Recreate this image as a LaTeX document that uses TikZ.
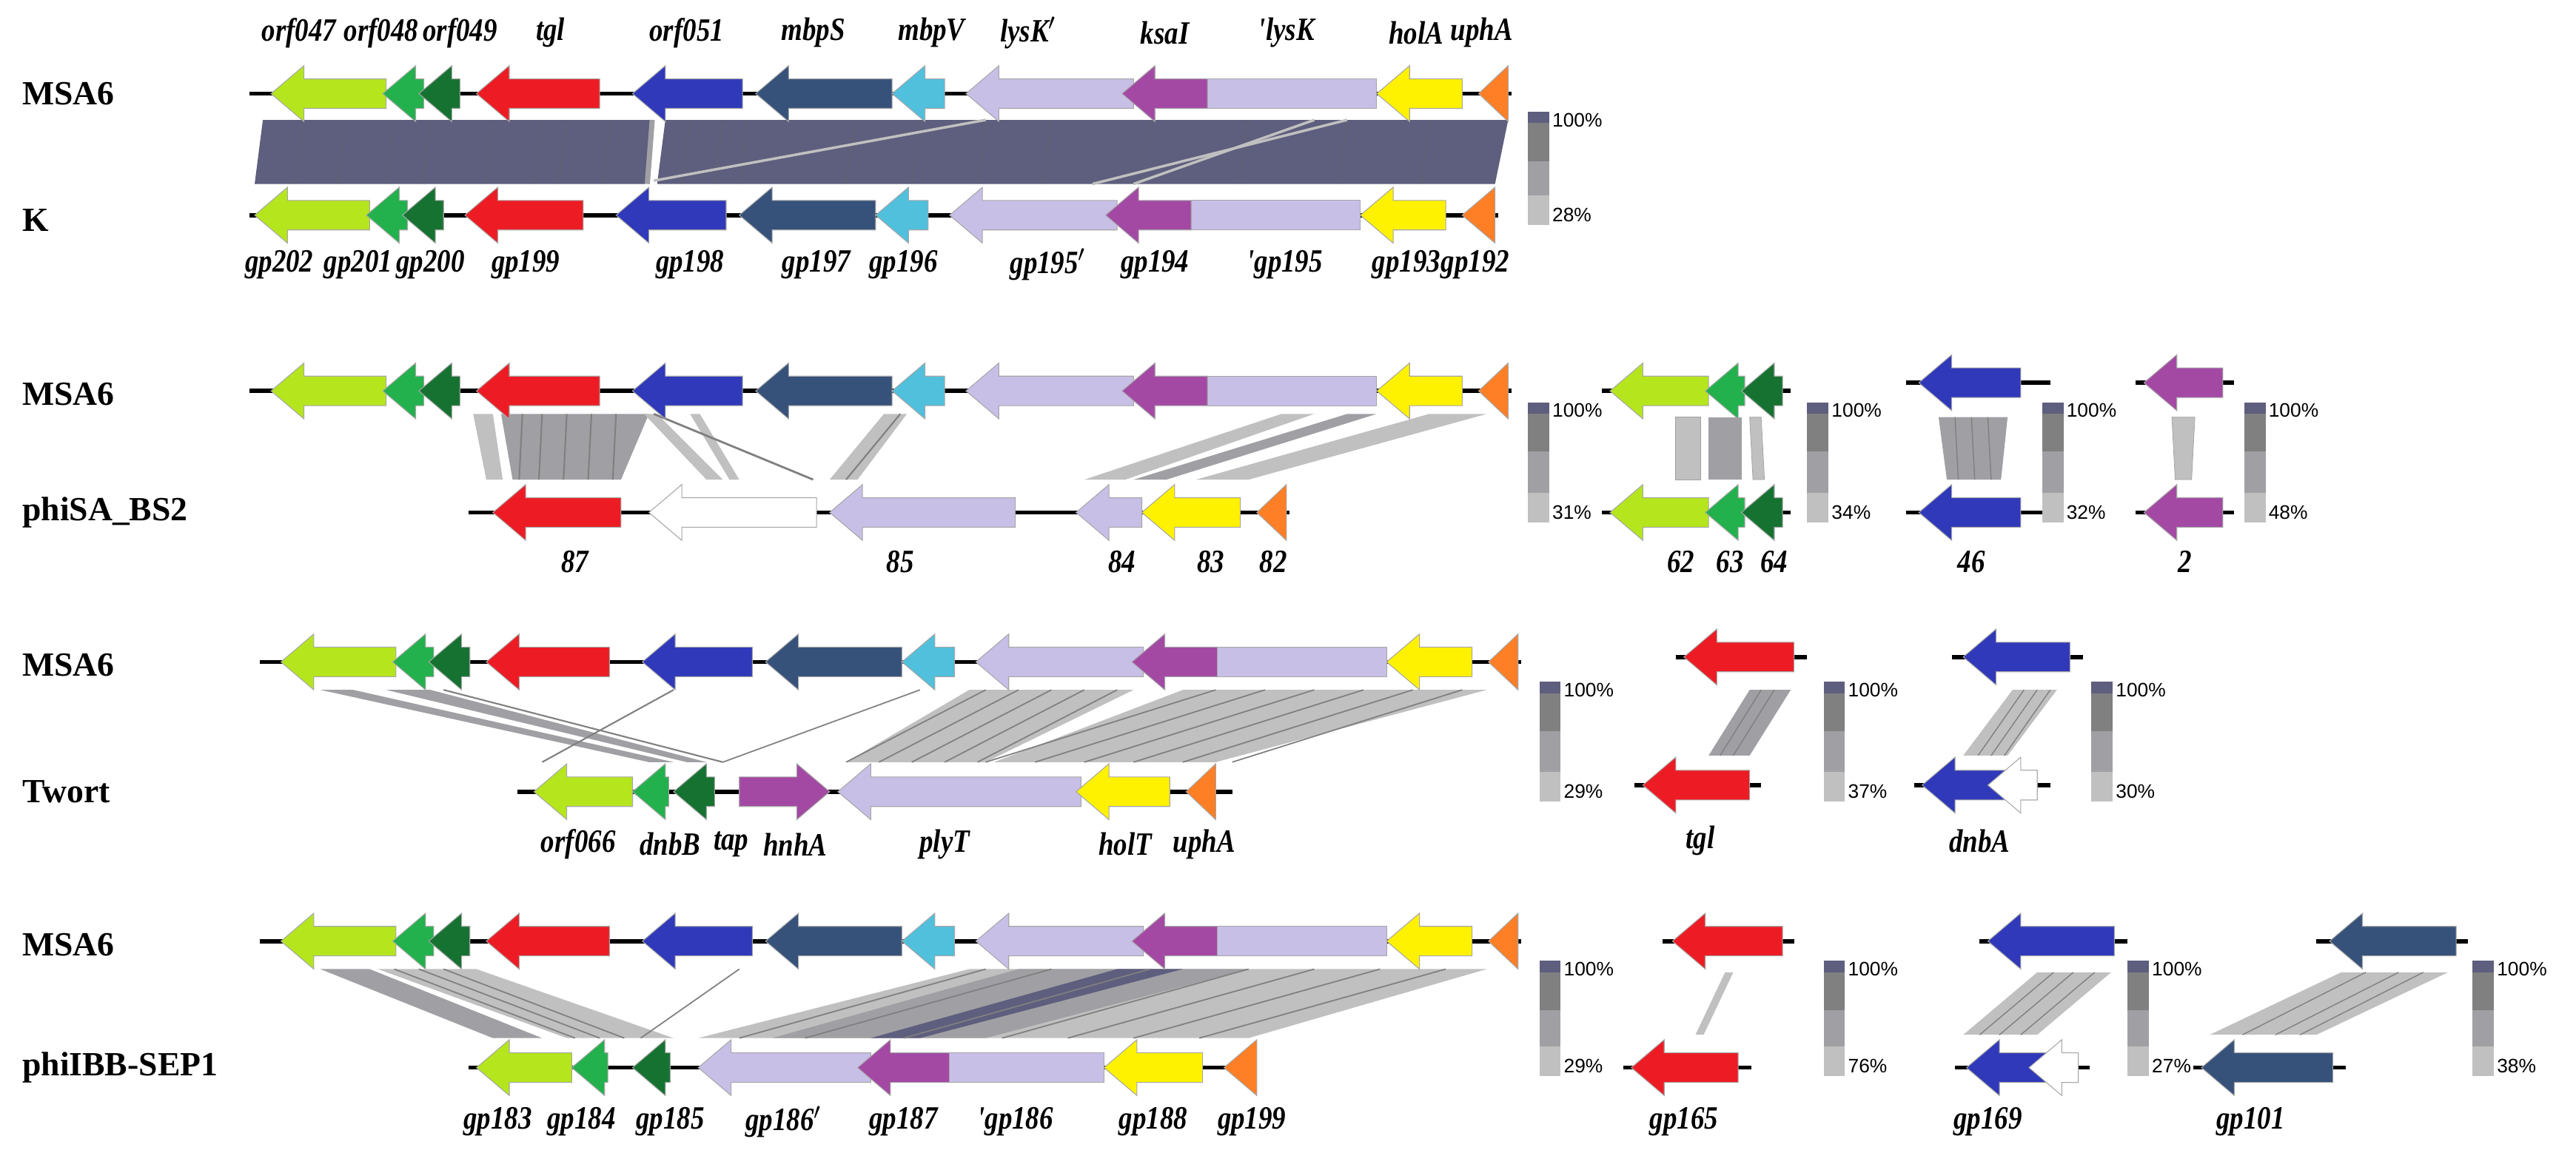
\documentclass[tikz,border=0pt]{standalone}
\usepackage{fontspec}
\setmainfont{Liberation Serif}
\newfontfamily\sans{Liberation Sans}
\newfontfamily\lab{Liberation Serif}[FakeStretch=0.84]
\begin{document}
\definecolor{cLime}{HTML}{B5E61D}\definecolor{cGreen}{HTML}{22B14C}
\definecolor{cDk}{HTML}{167231}\definecolor{cRed}{HTML}{ED1C24}
\definecolor{cBlue}{HTML}{3039B9}\definecolor{cNavy}{HTML}{36527A}
\definecolor{cCyan}{HTML}{50C0DC}\definecolor{cLav}{HTML}{C8BFE7}
\definecolor{cPur}{HTML}{A349A4}\definecolor{cYel}{HTML}{FFF200}
\definecolor{cOra}{HTML}{FF7F27}\definecolor{cHit}{HTML}{5E5E7E}
\definecolor{cG1}{HTML}{808080}\definecolor{cG2}{HTML}{A0A0A4}\definecolor{cG3}{HTML}{C0C0C0}
\begin{tikzpicture}[x=0.02219cm,y=-0.02219cm,
  gene/.style={draw=gray!70,line width=0.3pt},
  bb/.style={line width=1.6pt},
  glab/.style={font=\lab\fontsize{12.5}{14}\selectfont\bfseries\itshape},
  rlab/.style={font=\fontsize{13}{15}\selectfont\bfseries,anchor=west},
  pct/.style={font=\sans\fontsize{7.5}{9}\selectfont,anchor=west,inner sep=1pt},
  hit/.style={fill=cG3,draw=cG2,line width=0.2pt}]
\useasboundingbox (0,0) rectangle (1568,713.8);
\newcommand\gL[4]{\filldraw[gene,fill=#4] (#1,#3) -- (#1+20,#3-17) -- (#1+20,#3-9) -- (#2,#3-9) -- (#2,#3+9) -- (#1+20,#3+9) -- (#1+20,#3+17) -- cycle;}
\newcommand\gR[4]{\filldraw[gene,fill=#4] (#2,#3) -- (#2-20,#3-17) -- (#2-20,#3-9) -- (#1,#3-9) -- (#1,#3+9) -- (#2-20,#3+9) -- (#2-20,#3+17) -- cycle;}
\newcommand\gB[4]{\filldraw[gene,fill=#4] (#1,#3-9) rectangle (#2,#3+9);}
\newcommand\gT[4]{\filldraw[gene,fill=#4] (#1,#3) -- (#2,#3-17) -- (#2,#3+17) -- cycle;}
\newcommand\msa[2]{\begin{scope}[xshift=#1*0.02219cm]
 \draw[bb] (152,#2) -- (920,#2);
 \gL{165}{235}{#2}{cLime}\gL{233}{258}{#2}{cGreen}\gL{255}{280}{#2}{cDk}
 \gL{290}{365}{#2}{cRed}\gL{385}{452}{#2}{cBlue}\gL{460}{543}{#2}{cNavy}
 \gL{543}{575}{#2}{cCyan}\gL{588}{690}{#2}{cLav}\gL{683}{735}{#2}{cPur}
 \gB{735}{838}{#2}{cLav}\gL{838}{890}{#2}{cYel}\gT{900}{918}{#2}{cOra}
 \end{scope}}
\newcommand\sbar[4]{% x ytop ybot pct
 \fill[cHit] (#1,#2) rectangle (#1+13,#2+7);
 \fill[cG1] (#1,#2+7) rectangle (#1+13,#2+30);
 \fill[cG2] (#1,#2+30) rectangle (#1+13,#3-18);
 \fill[cG3] (#1,#3-18) rectangle (#1+13,#3);
 \node[pct] at (#1+13,#2+5) {100\%};
 \node[pct] at (#1+13,#3-6) {#4};}
% ---------- row 1
\node[rlab] at (8,57) {MSA6};
\node[rlab] at (8,134) {K};
\fill[cHit] (160,73) -- (398,73) -- (393,112) -- (155,112) -- cycle;
\fill[cHit] (405,73) -- (918,73) -- (910,112) -- (400,112) -- cycle;
\foreach \x in {185,210,240,262,300,330,345,372,420,440,455,520,560,600,640,700,760,820,870}
  \draw[black!60,line width=0.2pt] (\x,73) -- (\x-5,112);
\draw[cG2,line width=2pt] (397,73) -- (394,112);
\draw[white,line width=2pt] (403,73) -- (398,112);
\draw[cG3,line width=1pt] (398,110) -- (600,73);
\draw[cG3,line width=1pt] (665,112) -- (820,73);
\draw[cG3,line width=1pt] (690,112) -- (800,73);
\msa{0}{57}
\draw[bb] (152,131) -- (912,131);
\gL{155}{225}{131}{cLime}\gL{223}{248}{131}{cGreen}\gL{245}{270}{131}{cDk}
\gL{283}{355}{131}{cRed}\gL{375}{442}{131}{cBlue}\gL{450}{533}{131}{cNavy}
\gL{533}{565}{131}{cCyan}\gL{578}{680}{131}{cLav}\gL{673}{725}{131}{cPur}
\gB{725}{828}{131}{cLav}\gL{828}{880}{131}{cYel}\gT{890}{910}{131}{cOra}
\foreach \t/\x in {orf047/182,orf048/232,orf049/280,tgl/335,orf051/418,mbpS/495,mbpV/567,lysK$'$/626,ksaI/709,'lysK/783,holA/862,uphA/902}
  \node[glab] at (\x,20) {\t};
\foreach \t/\x in {gp202/170,gp201/218,gp200/262,gp199/320,gp198/420,gp197/497,gp196/550,gp195$'$/638,gp194/703,'gp195/782,gp193/856,gp192/898}
  \node[glab] at (\x,161) {\t};
\sbar{930}{68}{137}{28\%}
% ---------- row 2
\node[rlab] at (8,240) {MSA6};
\node[rlab] at (8,312) {phiSA\_BS2};
\fill[cG3] (288,252) -- (300,252) -- (306,292) -- (296,292) -- cycle;
\fill[cG2] (305,252) -- (395,252) -- (378,292) -- (312,292) -- cycle;
\foreach \x in {318,330,345,360,375} \draw[cG1,line width=0.6pt] (\x,252) -- (\x-2,292);
\fill[cG3] (392,252) -- (400,252) -- (440,292) -- (430,292) -- cycle;
\fill[cG3] (420,252) -- (426,252) -- (450,292) -- (444,292) -- cycle;
\draw[cG1,line width=0.8pt] (398,252) -- (495,292);
\fill[cG3] (538,252) -- (552,252) -- (522,292) -- (505,292) -- cycle;
\draw[cG1,line width=0.6pt] (548,252) -- (515,292);
\fill[cG3] (780,252) -- (800,252) -- (685,292) -- (660,292) -- cycle;
\fill[cG2] (820,252) -- (838,252) -- (710,292) -- (690,292) -- cycle;
\fill[cG3] (870,252) -- (905,252) -- (760,292) -- (728,292) -- cycle;
\msa{0}{238}
\draw[bb] (285,312) -- (785,312);
\gL{300}{378}{312}{cRed}\gL{395}{497}{312}{white}\gL{505}{618}{312}{cLav}
\gL{655}{695}{312}{cLav}\gL{695}{755}{312}{cYel}\gT{765}{783}{312}{cOra}
\foreach \t/\x in {87/350,85/548,84/683,83/737,82/775} \node[glab] at (\x,342) {\t};
\sbar{930}{245}{318}{31\%}
% small panels row 2
\draw[bb] (975,238) -- (1090,238);
\gL{980}{1040}{238}{cLime}\gL{1038}{1062}{238}{cGreen}\gL{1060}{1085}{238}{cDk}
\draw[bb] (975,312) -- (1090,312);
\gL{980}{1040}{312}{cLime}\gL{1038}{1062}{312}{cGreen}\gL{1060}{1085}{312}{cDk}
\fill[hit] (1020,254) rectangle (1035,292);
\fill[cG2] (1040,254) rectangle (1060,292);
\fill[hit] (1065,254) -- (1072,254) -- (1074,292) -- (1067,292) -- cycle;
\sbar{1100}{245}{318}{34\%}
\draw[bb] (1160,233) -- (1248,233);\gL{1168}{1230}{233}{cBlue}
\draw[bb] (1160,312) -- (1248,312);\gL{1168}{1230}{312}{cBlue}
\fill[cG2] (1180,254) -- (1222,254) -- (1218,292) -- (1185,292) -- cycle;
\foreach \x in {1190,1200,1210} \draw[cG1] (\x,254) -- (\x+2,292);
\sbar{1243}{245}{318}{32\%}
\draw[bb] (1300,233) -- (1360,233);\gL{1305}{1353}{233}{cPur}
\draw[bb] (1300,312) -- (1360,312);\gL{1305}{1353}{312}{cPur}
\fill[hit] (1322,254) -- (1336,254) -- (1334,292) -- (1324,292) -- cycle;
\sbar{1366}{245}{318}{48\%}
\foreach \t/\x in {62/1023,63/1053,64/1080,46/1200,2/1330} \node[glab] at (\x,342) {\t};
% ---------- row 3
\node[rlab] at (8,405) {MSA6};
\node[rlab] at (8,482) {Twort};
\fill[cG2] (195,420) -- (215,420) -- (410,464) -- (395,464) -- cycle;
\fill[cG2] (235,420) -- (262,420) -- (430,464) -- (418,464) -- cycle;
\draw[cG1,line width=0.6pt] (410,420) -- (330,464);
\draw[cG1,line width=0.6pt] (270,420) -- (440,464);
\draw[cG1,line width=0.5pt] (440,464) -- (560,420);
\fill[cG3] (590,420) -- (690,420) -- (600,464) -- (515,464) -- cycle;
\foreach \x in {600,620,640,660,680} \draw[cG1,line width=0.5pt] (\x,420) -- (\x-85,464);
\fill[cG3] (720,420) -- (905,420) -- (740,464) -- (605,464) -- cycle;
\foreach \x in {740,770,800,830,860,890} \draw[cG1,line width=0.5pt] (\x,420) -- (\x-140,464);
\msa{6}{403}
\draw[bb] (315,482) -- (750,482);
\gL{325}{385}{482}{cLime}\gL{385}{407}{482}{cGreen}\gL{410}{435}{482}{cDk}
\gR{450}{505}{482}{cPur}\gL{510}{658}{482}{cLav}\gL{655}{712}{482}{cYel}\gT{722}{740}{482}{cOra}
\foreach \t/\x in {orf066/352,dnbB/408,tap/445,hnhA/484,plyT/575,holT/685,uphA/733} \node[glab] at (\x,514) {\t};
\sbar{937}{415}{488}{29\%}
\draw[bb] (1020,400) -- (1100,400);\gL{1025}{1092}{400}{cRed}
\draw[bb] (995,478) -- (1072,478);\gL{1000}{1065}{478}{cRed}
\fill[cG2] (1065,420) -- (1090,420) -- (1065,460) -- (1040,460) -- cycle;
\foreach \x in {1072,1080} \draw[cG1] (\x,420) -- (\x-25,460);
\sbar{1110}{415}{488}{37\%}
\node[glab] at (1035,512) {tgl};
\draw[bb] (1188,400) -- (1268,400);\gL{1195}{1260}{400}{cBlue}
\draw[bb] (1165,478) -- (1248,478);\gL{1170}{1240}{478}{cBlue}\gL{1210}{1240}{478}{white}
\fill[cG3] (1225,420) -- (1252,420) -- (1222,460) -- (1195,460) -- cycle;
\foreach \x in {1232,1240,1248} \draw[cG1] (\x,420) -- (\x-28,460);
\sbar{1273}{415}{488}{30\%}
\node[glab] at (1205,512) {dnbA};
% ---------- row 4
\node[rlab] at (8,575) {MSA6};
\node[rlab] at (8,650) {phiIBB-SEP1};
\fill[cG2] (195,590) -- (225,590) -- (330,632) -- (300,632) -- cycle;
\fill[cG3] (230,590) -- (290,590) -- (410,632) -- (345,632) -- cycle;
\foreach \x in {240,255,270} \draw[cG1,line width=0.5pt] (\x,590) -- (\x+110,632);
\draw[cG1,line width=0.5pt] (450,590) -- (390,632);
\fill[cG3] (590,590) -- (905,590) -- (760,632) -- (425,632) -- cycle;
\fill[cG2] (620,590) -- (760,590) -- (600,632) -- (470,632) -- cycle;
\fill[cHit] (680,590) -- (720,590) -- (560,632) -- (530,632) -- cycle;
\foreach \x in {600,640,700,760,800,840,880} \draw[cG1,line width=0.5pt] (\x,590) -- (\x-150,632);
\msa{6}{573}
\draw[bb] (285,650) -- (765,650);
\gL{290}{348}{650}{cLime}\gL{348}{370}{650}{cGreen}\gL{385}{408}{650}{cDk}
\gL{425}{530}{650}{cLav}\gL{522}{578}{650}{cPur}\gB{578}{672}{650}{cLav}
\gL{672}{732}{650}{cYel}\gT{745}{765}{650}{cOra}
\foreach \t/\x in {gp183/303,gp184/354,gp185/408,gp186$'$/477,gp187/550,'gp186/618,gp188/702,gp199/762} \node[glab] at (\x,683) {\t};
\sbar{937}{585}{655}{29\%}
\draw[bb] (1012,573) -- (1092,573);\gL{1018}{1085}{573}{cRed}
\draw[bb] (988,650) -- (1066,650);\gL{993}{1058}{650}{cRed}
\fill[cG3] (1050,592) -- (1055,592) -- (1037,630) -- (1032,630) -- cycle;
\sbar{1110}{585}{655}{76\%}
\node[glab] at (1025,683) {gp165};
\draw[bb] (1205,573) -- (1295,573);\gL{1210}{1287}{573}{cBlue}
\draw[bb] (1190,650) -- (1272,650);\gL{1197}{1265}{650}{cBlue}\gL{1235}{1265}{650}{white}
\fill[cG3] (1240,592) -- (1285,592) -- (1240,630) -- (1195,630) -- cycle;
\foreach \x in {1250,1262,1275} \draw[cG1] (\x,592) -- (\x-45,630);
\sbar{1295}{585}{655}{27\%}
\node[glab] at (1210,683) {gp169};
\draw[bb] (1410,573) -- (1502,573);\gL{1418}{1495}{573}{cNavy}
\draw[bb] (1335,650) -- (1428,650);\gL{1340}{1420}{650}{cNavy}
\fill[cG3] (1425,592) -- (1490,592) -- (1410,630) -- (1345,630) -- cycle;
\foreach \x in {1440,1460,1475} \draw[cG1] (\x,592) -- (\x-75,630);
\sbar{1505}{585}{655}{38\%}
\node[glab] at (1370,683) {gp101};
\end{tikzpicture}
\end{document}
